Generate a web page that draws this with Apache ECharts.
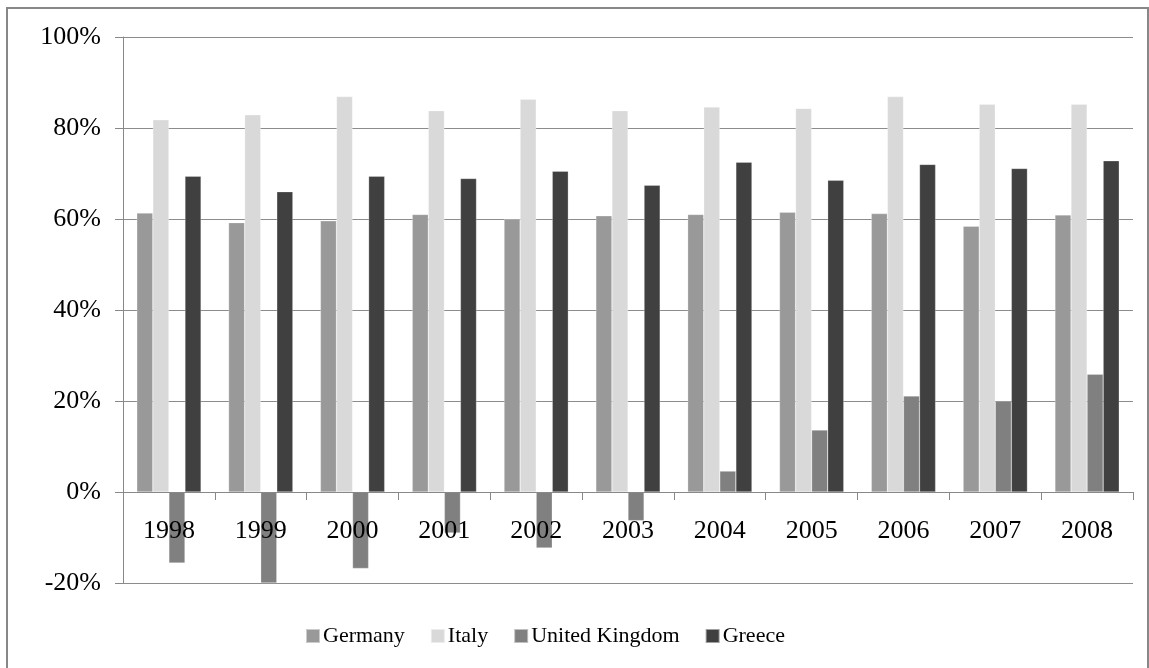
<!DOCTYPE html>
<html lang="en">
<head>
    <meta charset="UTF-8">
    <title>chart</title>
    <script src="https://cdn.jsdelivr.net/npm/echarts@6/dist/echarts.min.js"></script>
    <style>
        html, body { margin: 0; padding: 0; background: #fff; }
        #chart { width: 1149px; height: 668px; }
    </style>
</head>
<body>
<div id="chart"></div>
<script>
    var years = ['1998','1999','2000','2001','2002','2003','2004','2005','2006','2007','2008'];
    var germany = [61.3, 59.2, 59.6, 61.0, 60.0, 60.7, 61.0, 61.5, 61.2, 58.4, 60.9];
    var italy   = [81.8, 82.9, 86.9, 83.8, 86.3, 83.8, 84.6, 84.3, 86.9, 85.2, 85.2];
    var uk      = [-15.6, -20.0, -16.8, -9.0, -12.3, -6.3, 4.6, 13.6, 21.1, 20.0, 25.9];
    var greece  = [69.4, 66.0, 69.4, 68.9, 70.5, 67.4, 72.5, 68.5, 72.0, 71.1, 72.8];

    var font = '"Liberation Serif", "Times New Roman", serif';
    var chart = echarts.init(document.getElementById('chart'));

    function bar(name, data, color) {
        return {
            name: name,
            type: 'bar',
            data: data,
            barGap: '0%',
            barCategoryGap: '30%',
            itemStyle: { color: color, borderColor: 'rgba(255,255,255,0.5)', borderWidth: 0.5 }
        };
    }

    var option = {
        animation: false,
        backgroundColor: '#fff',
        graphic: [{
            type: 'rect',
            shape: { x: 7, y: 8, width: 1141, height: 680 },
            style: { fill: 'none', stroke: '#888', lineWidth: 2 }
        }],
        grid: { left: 123, right: 16, top: 37, bottom: 85 },
        legend: {
            left: 300,
            top: 620,
            itemWidth: 14,
            itemHeight: 14,
            itemGap: 25,
            icon: 'rect',
            textStyle: { fontFamily: font, fontSize: 22, color: '#000', padding: [0, 0, 0, -2] },
            data: ['Germany', 'Italy', 'United Kingdom', 'Greece']
        },
        xAxis: {
            type: 'category',
            data: years,
            z: 5,   // year labels drawn over the negative bars
            // put the axis on the 0% line (grid height 546 / 6 steps = 91px)
            offset: -91,
            axisLine: { onZero: false, lineStyle: { color: '#888', width: 1 } },
            axisTick: { show: true, length: 8, lineStyle: { color: '#888' } },
            axisLabel: { fontFamily: font, fontSize: 26, color: '#000', margin: 26 },
            splitLine: { show: false }
        },
        yAxis: {
            type: 'value',
            min: -20,
            max: 100,
            interval: 20,
            axisLine: { show: true, lineStyle: { color: '#888', width: 1 } },
            axisTick: { show: true, length: 8, lineStyle: { color: '#888' } },
            axisLabel: {
                fontFamily: font, fontSize: 26, color: '#000', margin: 22,
                formatter: function (v) { return v + '%'; }
            },
            splitLine: { show: true, lineStyle: { color: '#8c8c8c', width: 1 } }
        },
        series: [
            bar('Germany', germany, '#999999'),
            bar('Italy', italy, '#d9d9d9'),
            bar('United Kingdom', uk, '#808080'),
            bar('Greece', greece, '#404040')
        ]
    };
    chart.setOption(option);
</script>
</body>
</html>
